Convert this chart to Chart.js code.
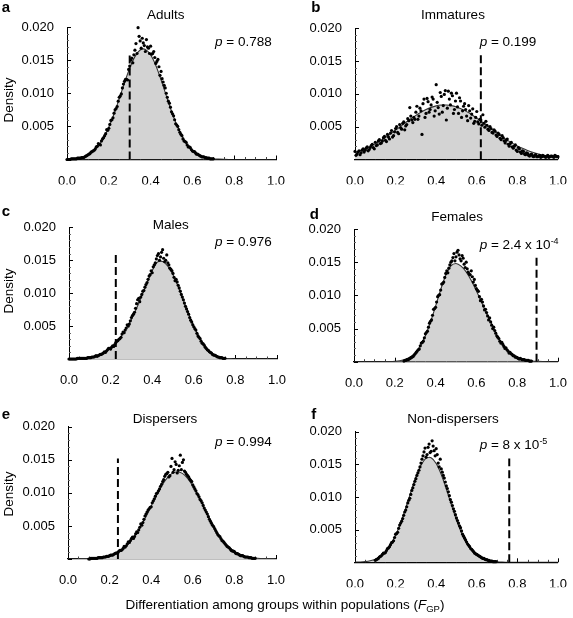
<!DOCTYPE html>
<html><head><meta charset="utf-8">
<script src="https://cdn.jsdelivr.net/npm/chart.js@4.4.1/dist/chart.umd.min.js"></script>
<style>
html,body{margin:0;padding:0;background:#fff;}
#wrap{position:relative;width:573px;height:618px;overflow:hidden;font-family:"Liberation Sans",Arial,Helvetica,sans-serif;color:#000;}
canvas.panel{position:absolute;left:0;top:0;}
.t{position:absolute;white-space:nowrap;line-height:1;font-size:13.5px;}
.c{transform:translate(-50%,-50%);}
.l{transform:translate(0,-50%);}
.lt{font-weight:bold;font-size:15px;}
.rot{transform:translate(-50%,-50%) rotate(-90deg);}
sup{font-size:9px;vertical-align:5px;line-height:0;}
sub{font-size:9.5px;vertical-align:-3px;line-height:0;}
</style></head>
<body><div id="wrap"></div>
<script>
// ---------- data ----------
const panelLetters = ['a','b','c','d','e','f'];
const panelTitles = ['Adults','Immatures','Males','Females','Dispersers','Non-dispersers'];
const pLabels = ['<i>p</i> = 0.788','<i>p</i> = 0.199','<i>p</i> = 0.976','<i>p</i> = 2.4 x 10<sup>-4</sup>','<i>p</i> = 0.994','<i>p</i> = 8 x 10<sup>-5</sup>'];
const xTickVals = [0.0,0.2,0.4,0.6,0.8,1.0];
const yTickVals = [0.005,0.010,0.015,0.020];
const yAxisTitle = 'Density';
const xAxisTitle = 'Differentiation among groups within populations (<i>F</i><sub>GP</sub>)';

// observed F_GP (dashed line) and its drawn height
const observedFgp = [0.30,0.62,0.225,0.895,0.24,0.76];
const observedTop = [0.0158,0.0159,0.0159,0.0158,0.0152,0.0159];

// bins for simulated points
const fgpBins = [0.00,0.01,0.02,0.03,0.04,0.05,0.06,0.07,0.08,0.09,
0.10,0.11,0.12,0.13,0.14,0.15,0.16,0.17,0.18,0.19,
0.20,0.21,0.22,0.23,0.24,0.25,0.26,0.27,0.28,0.29,
0.30,0.31,0.32,0.33,0.34,0.35,0.36,0.37,0.38,0.39,
0.40,0.41,0.42,0.43,0.44,0.45,0.46,0.47,0.48,0.49,
0.50,0.51,0.52,0.53,0.54,0.55,0.56,0.57,0.58,0.59,
0.60,0.61,0.62,0.63,0.64,0.65,0.66,0.67,0.68,0.69,
0.70,0.71,0.72,0.73,0.74,0.75,0.76,0.77,0.78,0.79,
0.80,0.81,0.82,0.83,0.84,0.85,0.86,0.87,0.88,0.89,
0.90,0.91,0.92,0.93,0.94,0.95,0.96,0.97,0.98,0.99,1.00];
const fgpHalfBins = [0.005,0.015,0.025,0.035,0.045,0.055,0.065,0.075,0.085,0.095,
0.105,0.115,0.125,0.135,0.145,0.155,0.165,0.175,0.185,0.195,
0.205,0.215,0.225,0.235,0.245,0.255,0.265,0.275,0.285,0.295,
0.305,0.315,0.325,0.335,0.345,0.355,0.365,0.375,0.385,0.395,
0.405,0.415,0.425,0.435,0.445,0.455,0.465,0.475,0.485,0.495,
0.505,0.515,0.525,0.535,0.545,0.555,0.565,0.575,0.585,0.595,
0.605,0.615,0.625,0.635,0.645,0.655,0.665,0.675,0.685,0.695,
0.705,0.715,0.725,0.735,0.745,0.755,0.765,0.775,0.785,0.795,
0.805,0.815,0.825,0.835,0.845,0.855,0.865,0.875,0.885,0.895,
0.905,0.915,0.925,0.935,0.945,0.955,0.965,0.975,0.985,0.995];

const pointsA = [0,0,0.0001,0.0001,0.0001,0.0002,0.0002,0.0003,0.0003,0.0005,
0.0007,0.0009,0.0012,0.0014,0.0019,0.0024,0.0022,0.0031,0.0036,0.0045,
0.0047,0.0059,0.0063,0.0075,0.0080,0.0094,0.0099,0.0114,0.0121,0.0120,
0.0141,0.0153,0.0158,0.0175,0.0199,0.0179,0.0183,0.0172,0.0181,0.0168,
0.0171,0.0160,0.0154,0.0148,0.0140,0.0133,0.0117,0.0108,0.0094,0.0085,
0.0072,0.0066,0.0054,0.0050,0.0041,0.0036,0.0028,0.0026,0.0019,0.0018,
0.0013,0.0012,0.0008,0.0007,0.0005,0.0004,0.0003,0.0002,0.0002,0.0001,
0.0001,null,null,null,null,null,null,null,null,null,
null,null,null,null,null,null,null,null,null,null,
null,null,null,null,null,null,null,null,null,null,null];
const pointsAHalf = [0,0,0.0001,0.0001,0.0001,0.0002,0.0002,0.0003,0.0004,0.0006,
0.0008,0.0011,0.0013,0.0016,0.0020,0.0023,0.0028,0.0033,0.0039,0.0044,
0.0053,0.0060,0.0070,0.0077,0.0088,0.0096,0.0108,0.0118,0.0121,0.0136,
0.0150,0.0146,0.0165,0.0160,0.0186,0.0168,0.0176,0.0163,0.0170,0.0160,
0.0159,0.0163,0.0145,0.0151,0.0127,0.0122,0.0112,0.0100,0.0088,0.0079,
0.0069,0.0060,0.0052,0.0045,0.0038,0.0031,0.0027,0.0022,0.0019,0.0015,
0.0012,0.0010,0.0008,0.0006,0.0004,0.0004,0.0003,0.0002,0.0001,0.0001,
null,null,null,null,null,null,null,null,null,null,
null,null,null,null,null,null,null,null,null,null,
null,null,null,null,null,null,null,null,null,null];

const pointsB = [0.0012,0.0008,0.0013,0.0010,0.0016,0.0014,0.0019,0.0015,0.0021,0.0018,
0.0026,0.0022,0.0030,0.0025,0.0033,0.0029,0.0038,0.0031,0.0044,0.0036,
0.0047,0.0041,0.0053,0.0046,0.0057,0.0051,0.0062,0.0079,0.0060,0.0064,
0.0072,0.0061,0.0078,0.0038,0.0092,0.0070,0.0088,0.0076,0.0095,0.0066,
0.0114,0.0079,0.0102,0.0072,0.0099,0.0060,0.0104,0.0083,0.0097,0.0076,
0.0101,0.0070,0.0089,0.0074,0.0085,0.0066,0.0082,0.0063,0.0077,0.0058,
0.0073,0.0054,0.0060,0.0068,0.0049,0.0052,0.0044,0.0047,0.0040,0.0043,
0.0035,0.0038,0.0030,0.0033,0.0025,0.0031,0.0020,0.0026,0.0017,0.0022,
0.0012,0.0016,0.0009,0.0012,0.0007,0.0009,0.0005,0.0008,0.0004,0.0007,
0.0004,0.0006,0.0004,0.0005,0.0003,0.0006,0.0004,0.0005,0.0003,0.0005,0.0004];
const pointsBHalf = [0.0006,0.0011,0.0007,0.0014,0.0011,0.0017,0.0013,0.0018,0.0023,0.0016,
0.0021,0.0028,0.0024,0.0028,0.0035,0.0027,0.0034,0.0040,0.0034,0.0042,
0.0050,0.0039,0.0048,0.0055,0.0045,0.0053,0.0059,0.0066,0.0056,0.0061,
0.0081,0.0066,0.0074,0.0085,0.0064,0.0093,0.0072,0.0083,0.0092,0.0074,
0.0087,0.0069,0.0096,0.0082,0.0105,0.0078,0.0092,0.0101,0.0070,0.0089,
0.0080,0.0094,0.0064,0.0081,0.0076,0.0059,0.0074,0.0069,0.0055,0.0064,
0.0057,0.0061,0.0052,0.0055,0.0058,0.0046,0.0050,0.0041,0.0045,0.0037,
0.0040,0.0032,0.0036,0.0028,0.0029,0.0023,0.0024,0.0019,0.0020,0.0014,
0.0018,0.0011,0.0013,0.0008,0.0010,0.0006,0.0007,0.0005,0.0006,0.0004,
0.0005,0.0003,0.0006,0.0004,0.0005,0.0003,0.0005,0.0004,0.0006,0.0004];

const pointsC = [0,0,0,0,0.0001,0.0001,0.0001,0.0001,0.0001,0.0002,
0.0002,0.0003,0.0003,0.0005,0.0005,0.0007,0.0008,0.0011,0.0012,0.0016,
0.0015,0.0020,0.0022,0.0027,0.0030,0.0033,0.0041,0.0044,0.0052,0.0053,
0.0063,0.0068,0.0077,0.0090,0.0087,0.0098,0.0104,0.0113,0.0121,0.0128,
0.0131,0.0143,0.0152,0.0160,0.0155,0.0166,0.0148,0.0158,0.0143,0.0136,
0.0130,0.0119,0.0117,0.0108,0.0098,0.0090,0.0080,0.0072,0.0063,0.0056,
0.0049,0.0044,0.0035,0.0031,0.0024,0.0021,0.0016,0.0013,0.0010,0.0007,
0.0006,0.0004,0.0003,0.0002,0.0001,0.0001,null,null,null,null,
null,null,null,null,null,null,null,null,null,null,
null,null,null,null,null,null,null,null,null,null,null];
const pointsCHalf = [0,0,0,0,0.0001,0.0001,0.0001,0.0001,0.0001,0.0002,
0.0002,0.0003,0.0004,0.0004,0.0006,0.0007,0.0009,0.0010,0.0014,0.0016,
0.0018,0.0019,0.0025,0.0028,0.0031,0.0038,0.0040,0.0047,0.0050,0.0058,
0.0066,0.0071,0.0084,0.0092,0.0094,0.0103,0.0109,0.0116,0.0126,0.0134,
0.0140,0.0146,0.0157,0.0150,0.0162,0.0153,0.0150,0.0146,0.0138,0.0134,
0.0124,0.0121,0.0112,0.0103,0.0094,0.0085,0.0076,0.0068,0.0059,0.0052,
0.0046,0.0039,0.0033,0.0027,0.0023,0.0018,0.0014,0.0011,0.0009,0.0006,
0.0005,0.0003,0.0002,0.0002,0.0001,null,null,null,null,null,
null,null,null,null,null,null,null,null,null,null,
null,null,null,null,null,null,null,null,null,null];

const pointsD = [null,null,null,null,null,null,null,null,null,null,
null,null,null,null,null,null,null,null,null,null,
null,null,null,null,null,0.0002,0.0003,0.0004,0.0006,0.0008,
0.0012,0.0016,0.0019,0.0028,0.0031,0.0042,0.0046,0.0058,0.0063,0.0079,
0.0082,0.0098,0.0101,0.0117,0.0120,0.0133,0.0134,0.0146,0.0152,0.0163,
0.0158,0.0168,0.0155,0.0160,0.0147,0.0150,0.0135,0.0131,0.0128,0.0124,
0.0110,0.0106,0.0092,0.0090,0.0078,0.0074,0.0063,0.0060,0.0050,0.0047,
0.0039,0.0035,0.0028,0.0026,0.0020,0.0018,0.0013,0.0012,0.0009,0.0007,
0.0006,0.0004,0.0004,0.0003,0.0002,0.0002,0.0001,0.0001,null,null,
null,null,null,null,null,null,null,null,null,null,null];
const pointsDHalf = [null,null,null,null,null,null,null,null,null,null,
null,null,null,null,null,null,null,null,null,null,
null,null,null,null,0.0001,0.0002,0.0003,0.0005,0.0007,0.0010,
0.0014,0.0018,0.0024,0.0029,0.0036,0.0044,0.0052,0.0061,0.0070,0.0080,
0.0090,0.0100,0.0108,0.0118,0.0127,0.0137,0.0141,0.0150,0.0157,0.0152,
0.0165,0.0161,0.0152,0.0156,0.0142,0.0140,0.0132,0.0137,0.0120,0.0115,
0.0108,0.0098,0.0094,0.0084,0.0079,0.0069,0.0066,0.0055,0.0052,0.0043,
0.0037,0.0031,0.0029,0.0023,0.0021,0.0016,0.0014,0.0011,0.0009,0.0007,
0.0005,0.0005,0.0003,0.0003,0.0002,0.0002,0.0001,null,null,null,
null,null,null,null,null,null,null,null,null,null];

const pointsE = [null,null,null,null,null,null,null,null,null,null,
0,0.0001,0.0001,0.0001,0.0001,0.0002,0.0002,0.0003,0.0003,0.0004,
0.0005,0.0006,0.0007,0.0009,0.0010,0.0013,0.0014,0.0019,0.0020,0.0026,
0.0028,0.0033,0.0034,0.0041,0.0044,0.0053,0.0055,0.0065,0.0071,0.0076,
0.0079,0.0088,0.0095,0.0100,0.0106,0.0113,0.0120,0.0128,0.0131,0.0126,
0.0152,0.0135,0.0143,0.0134,0.0157,0.0146,0.0133,0.0128,0.0124,0.0119,
0.0112,0.0106,0.0099,0.0094,0.0088,0.0081,0.0074,0.0068,0.0060,0.0054,
0.0049,0.0043,0.0037,0.0034,0.0028,0.0025,0.0021,0.0018,0.0015,0.0012,
0.0011,0.0008,0.0007,0.0005,0.0005,0.0003,0.0003,0.0002,0.0002,0.0001,
0.0001,null,null,null,null,null,null,null,null,null,null];
const pointsEHalf = [null,null,null,null,null,null,null,null,null,null,
0,0.0001,0.0001,0.0001,0.0002,0.0002,0.0002,0.0003,0.0004,0.0004,
0.0006,0.0006,0.0008,0.0009,0.0012,0.0013,0.0016,0.0018,0.0023,0.0025,
0.0031,0.0031,0.0038,0.0040,0.0048,0.0051,0.0060,0.0068,0.0074,0.0078,
0.0085,0.0091,0.0099,0.0103,0.0110,0.0117,0.0125,0.0129,0.0124,0.0140,
0.0131,0.0147,0.0130,0.0141,0.0135,0.0150,0.0131,0.0126,0.0121,0.0117,
0.0109,0.0103,0.0097,0.0090,0.0085,0.0077,0.0071,0.0064,0.0057,0.0051,
0.0046,0.0040,0.0035,0.0031,0.0027,0.0023,0.0019,0.0017,0.0013,0.0012,
0.0009,0.0008,0.0006,0.0005,0.0004,0.0003,0.0003,0.0002,0.0001,0.0001,
null,null,null,null,null,null,null,null,null,null];

const pointsF = [null,null,null,null,null,null,null,null,null,null,
0.0003,0.0005,0.0008,0.0010,0.0014,0.0015,0.0021,0.0024,0.0030,0.0033,
0.0043,0.0046,0.0057,0.0063,0.0072,0.0080,0.0091,0.0098,0.0110,0.0119,
0.0128,0.0137,0.0146,0.0158,0.0169,0.0161,0.0176,0.0168,0.0186,0.0171,
0.0174,0.0152,0.0158,0.0138,0.0129,0.0117,0.0108,0.0096,0.0087,0.0078,
0.0068,0.0060,0.0053,0.0043,0.0037,0.0031,0.0026,0.0021,0.0018,0.0014,
0.0012,0.0010,0.0008,0.0006,0.0005,0.0004,0.0003,0.0002,0.0001,0.0001,
null,null,null,null,null,null,null,null,null,null,
null,null,null,null,null,null,null,null,null,null,
null,null,null,null,null,null,null,null,null,null,null];
const pointsFHalf = [null,null,null,null,null,null,null,null,null,null,
0.0004,0.0006,0.0009,0.0012,0.0014,0.0018,0.0022,0.0027,0.0031,0.0038,
0.0044,0.0052,0.0060,0.0067,0.0077,0.0085,0.0095,0.0104,0.0114,0.0124,
0.0133,0.0141,0.0152,0.0163,0.0175,0.0165,0.0181,0.0170,0.0178,0.0163,
0.0165,0.0146,0.0143,0.0133,0.0123,0.0113,0.0102,0.0092,0.0082,0.0073,
0.0064,0.0056,0.0048,0.0040,0.0034,0.0028,0.0024,0.0020,0.0016,0.0013,
0.0011,0.0009,0.0007,0.0006,0.0004,0.0003,0.0002,0.0002,0.0001,0.0001,
null,null,null,null,null,null,null,null,null,null,
null,null,null,null,null,null,null,null,null,null,
null,null,null,null,null,null,null,null,null,null];

// fitted density curves
const curveX = [0,0.025,0.05,0.075,0.1,0.125,0.15,0.175,0.2,0.225,0.25,0.275,0.3,0.325,0.35,0.375,0.4,0.425,0.45,0.475,0.5,0.525,0.55,0.575,0.6,0.625,0.65,0.675,0.7,0.725,0.75,0.775,0.8,0.825,0.85,0.875,0.9,0.925,0.95,0.975,1];
const curveA = [0.00004,0.00009,0.00019,0.00037,0.00069,0.00123,0.00205,0.00325,0.00486,0.00687,0.00917,0.01157,0.01379,0.01553,0.01653,0.01662,0.0158,0.01419,0.01203,0.00964,0.0073,0.00523,0.00354,0.00226,0.00136,0.00078,0.00042,0.00021,0.0001,0.00005,0.00002,0,0,0,0,0,0,0,0,0,0];
const curveB = [0.00102,0.00129,0.0016,0.00196,0.00238,0.00284,0.00334,0.00388,0.00445,0.00503,0.00562,0.00619,0.00671,0.00719,0.0076,0.00793,0.00816,0.00828,0.00829,0.00819,0.00798,0.00768,0.00728,0.00681,0.00629,0.00573,0.00515,0.00457,0.004,0.00345,0.00293,0.00247,0.00204,0.00167,0.00135,0.00107,0.00084,0.00065,0.0005,0.00038,0.00028];
const curveC = [0,0,0.00005,0.0001,0.0002,0.0004,0.0007,0.0011,0.0017,0.0024,0.0034,0.0047,0.0060,0.0077,0.0096,0.0115,0.0134,0.0147,0.0148,0.0141,0.0128,0.0110,0.0089,0.0069,0.0050,0.0034,0.0021,0.0012,0.0006,0.0003,0.0001,0.00005,0,0,0,0,0,0,0,0,0];
const curveD = [0,0,0,0,0,0,0.00001,0.00002,0.00006,0.00015,0.00033,0.0007,0.00134,0.00239,0.00392,0.00596,0.00837,0.01086,0.01302,0.01443,0.0148,0.01441,0.01353,0.01225,0.01068,0.00898,0.00727,0.00567,0.0040,0.0028,0.0019,0.0012,0.0007,0.0004,0.0002,0.0001,0.00005,0.00002,0,0,0];
const curveE = [0,0,0.00001,0.00002,0.00004,0.00008,0.00015,0.00026,0.00045,0.00074,0.00117,0.00179,0.00261,0.00367,0.00495,0.00643,0.00801,0.00958,0.01103,0.01218,0.01294,0.0132,0.01294,0.01218,0.01103,0.00958,0.00801,0.00643,0.00495,0.00367,0.00261,0.00179,0.00117,0.00074,0.00045,0.00026,0.00015,0.00008,0.00004,0.00002,0.00001];
const curveF = [0.00002,0.00005,0.00011,0.00024,0.00048,0.0009,0.0016,0.00265,0.00413,0.00604,0.00831,0.01074,0.01303,0.01486,0.01592,0.01602,0.01514,0.01345,0.01122,0.00879,0.00647,0.00447,0.00291,0.00178,0.00102,0.00055,0.00028,0.00013,0.00006,0.00002,0.00001,0,0,0,0,0,0,0,0,0,0];

const pointSets = [pointsA,pointsB,pointsC,pointsD,pointsE,pointsF];
const halfSets = [pointsAHalf,pointsBHalf,pointsCHalf,pointsDHalf,pointsEHalf,pointsFHalf];
const curveSets = [curveA,curveB,curveC,curveD,curveE,curveF];

// ---------- layout (pixels) ----------
const boxes = [
  {L:67, R:276, T:27,   B:159.5},
  {L:355,R:564, T:28.3, B:159.3},
  {L:69, R:277, T:227.3,B:359},
  {L:354,R:563, T:229,  B:361.7},
  {L:68, R:276, T:426.7,B:559},
  {L:355,R:563, T:431.7,B:562.3}
];
const letterPos = [[1.7,6.3],[311.3,6.3],[1.7,209.6],[309.7,212.9],[1.7,412.9],[311.3,412.9]];
const titlePos = [[165.8,14.7],[453,15],[170.8,225],[457.2,216.7],[165,419.2],[453,419.2]];
const pPos = [[215,41.7],[479.7,41.7],[215,241.7],[479.7,245],[215,441.7],[479.7,445]];
const densityPos = [[8.5,100],[8.5,291],[8.5,493.5]];
const YW = 45, XH = 25, W = 573, H = 618;

Chart.defaults.font.family = '"Liberation Sans", Arial, Helvetica, sans-serif';
Chart.defaults.color = '#000';

const inTicks = {
  id:'inTicks',
  beforeDatasetsDraw(chart){
    const {ctx, chartArea:a, scales:{x,y}} = chart;
    ctx.save();
    ctx.lineWidth = 1;
    for (let k=0;k<=20;k++){
      const px = Math.round(x.getPixelForValue(k*0.05))+0.5;
      const major = k%4===0;
      ctx.strokeStyle = major ? '#000' : '#444';
      ctx.beginPath(); ctx.moveTo(px,a.bottom); ctx.lineTo(px,a.bottom-(major?4:2.5)); ctx.stroke();
    }
    for (let k=0;k<=20;k++){
      const py = Math.round(y.getPixelForValue(k*0.001))+0.5;
      const major = k%5===0;
      ctx.strokeStyle = major ? '#000' : '#666';
      ctx.beginPath(); ctx.moveTo(a.left,py); ctx.lineTo(a.left+(major?4:2),py); ctx.stroke();
    }
    ctx.restore();
  }
};

const wrap = document.getElementById('wrap');

function addText(html, x, y, cls){
  const d = document.createElement('div');
  d.className = 't ' + cls;
  d.style.left = x + 'px'; d.style.top = y + 'px';
  d.innerHTML = html;
  wrap.appendChild(d);
}

for (let i=0;i<6;i++){
  const b = boxes[i];
  const cv = document.createElement('canvas');
  cv.width = W; cv.height = H; cv.className = 'panel';
  wrap.appendChild(cv);
  const pts = [];
  fgpBins.forEach((x,k)=>{ const v = pointSets[i][k]; if (v!==null) pts.push({x:x,y:v}); });
  fgpHalfBins.forEach((x,k)=>{ const v = halfSets[i][k]; if (v!==null) pts.push({x:x,y:v}); });
  const curve = curveX.map((x,k)=>({x:x,y:curveSets[i][k]}));
  new Chart(cv, {
    type:'scatter',
    data:{datasets:[
      {type:'scatter', data:pts, pointRadius:1.6, pointHoverRadius:1.6, pointBackgroundColor:'#000', pointBorderWidth:0, order:0, clip:false},
      {type:'line', data:[{x:observedFgp[i],y:0},{x:observedFgp[i],y:observedTop[i]}], borderColor:'#000', borderWidth:2, borderDash:[8,4], pointRadius:0, fill:false, order:1},
      {type:'line', data:curve, borderColor:'#333', borderWidth:1.1, backgroundColor:'#d3d3d3', fill:'origin', pointRadius:0, tension:0.3, order:2}
    ]},
    options:{
      responsive:false, animation:false, devicePixelRatio:1,
      events:[],
      layout:{padding:{left:b.L-YW, right:W-b.R, top:b.T, bottom:H-b.B-XH}},
      plugins:{legend:{display:false}, tooltip:{enabled:false}},
      scales:{
        x:{type:'linear', min:0, max:1,
           grid:{display:false}, border:{display:true,color:'#000',width:1.2},
           ticks:{padding:6, font:{size:13}, color:'#000', maxRotation:0, callback:v=>Number(v).toFixed(1)},
           afterBuildTicks:s=>{ s.ticks = xTickVals.map(v=>({value:v})); },
           afterFit:s=>{ s.height = XH; }},
        y:{type:'linear', min:0, max:0.02,
           grid:{display:false}, border:{display:true,color:'#000',width:1},
           ticks:{padding:5, font:{size:13}, color:'#000', callback:v=>Number(v).toFixed(3)},
           afterBuildTicks:s=>{ s.ticks = yTickVals.map(v=>({value:v})); },
           afterFit:s=>{ s.width = YW; }}
      }
    },
    plugins:[inTicks]
  });
  addText(panelLetters[i], letterPos[i][0], letterPos[i][1], 'l lt');
  addText(panelTitles[i], titlePos[i][0], titlePos[i][1], 'c');
  addText(pLabels[i], pPos[i][0], pPos[i][1], 'l');
}
densityPos.forEach(p=>addText(yAxisTitle, p[0], p[1], 'rot'));
addText(xAxisTitle, 285, 604.5, 'c');
</script>
</body></html>
